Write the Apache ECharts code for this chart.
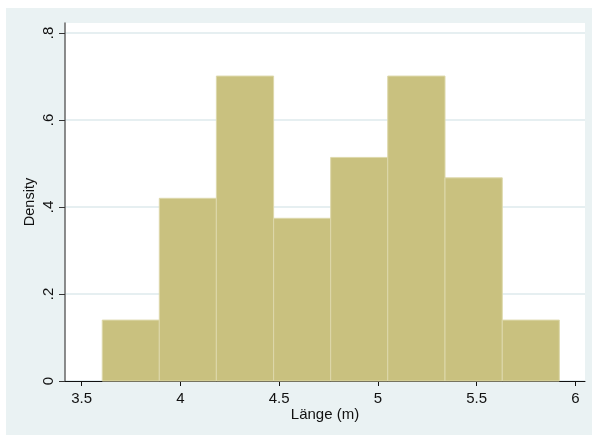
<!DOCTYPE html>
<html>
<head>
<meta charset="utf-8">
<script src="https://cdn.jsdelivr.net/npm/echarts@6/dist/echarts.min.js"></script>
<style>
  html, body { margin: 0; padding: 0; background: #ffffff; }
  #wrap { position: absolute; left: 6px; top: 8px; width: 586px; height: 427px; background: #eaf2f3; }
  #chart { width: 586px; height: 427px; }
</style>
</head>
<body>
<div id="wrap"><div id="chart"></div></div>
<script>
// Histogram bins (left edges ... right edge) and densities
var binEdges = [3.604, 3.893, 4.182, 4.472, 4.761, 5.050, 5.340, 5.630, 5.919];
var densities = [0.140, 0.420, 0.701, 0.374, 0.514, 0.701, 0.467, 0.140];
var xTicks = [3.5, 4, 4.5, 5, 5.5, 6];
var yTicks = [0, 0.2, 0.4, 0.6, 0.8];
var xTitle = 'Länge (m)';
var yTitle = 'Density';

var barData = densities.map(function (d, i) { return [binEdges[i], binEdges[i + 1], d]; });

function fmtY(v) {
  if (v === 0) return '0';
  return String(v).replace(/^0/, '');
}

var font = 'Liberation Sans, Arial, Helvetica, sans-serif';
var chart = echarts.init(document.getElementById('chart'), null, { renderer: 'canvas' });
chart.setOption({
  animation: false,
  backgroundColor: 'transparent',
  grid: { left: 59, right: 7, top: 15, bottom: 54, show: true, backgroundColor: '#ffffff', borderWidth: 0 },
  xAxis: {
    type: 'value',
    min: 3.4154, max: 6.049,
    name: xTitle, nameLocation: 'middle', nameGap: 26, nameMoveOverlap: false,
    nameTextStyle: { fontFamily: font, fontSize: 15, color: '#111' },
    axisLine: { show: true, onZero: false, lineStyle: { color: '#111', width: 1 } },
    axisTick: { show: true, length: 5, lineStyle: { color: '#111' }, customValues: xTicks },
    axisLabel: { fontFamily: font, fontSize: 15, color: '#111', margin: 10, customValues: xTicks,
      formatter: function (v) { return String(v); } },
    splitLine: { show: false }
  },
  yAxis: {
    type: 'value',
    min: 0, max: 0.823,
    name: yTitle, nameLocation: 'middle', nameGap: 28, nameRotate: 90, nameMoveOverlap: false,
    nameTextStyle: { fontFamily: font, fontSize: 14.5, color: '#111' },
    axisLine: { show: true, onZero: false, lineStyle: { color: '#666', width: 1.5 } },
    axisTick: { show: true, length: 6, lineStyle: { color: '#333' }, customValues: yTicks },
    axisLabel: { fontFamily: font, fontSize: 15, color: '#111', rotate: 90, margin: 9, customValues: yTicks,
      formatter: fmtY },
    splitLine: { show: true, lineStyle: { color: '#e6eff1', width: 2 } }
  },
  series: [{
    type: 'custom',
    data: barData,
    encode: { x: [0, 1], y: 2 },
    renderItem: function (params, api) {
      var p0 = api.coord([api.value(0), 0]);
      var p1 = api.coord([api.value(1), api.value(2)]);
      return {
        type: 'rect',
        shape: { x: p0[0], y: p1[1], width: p1[0] - p0[0], height: p0[1] - p1[1] },
        style: { fill: '#c9c17f', stroke: '#ddd8ab', lineWidth: 1 }
      };
    }
  }]
});
</script>
</body>
</html>
